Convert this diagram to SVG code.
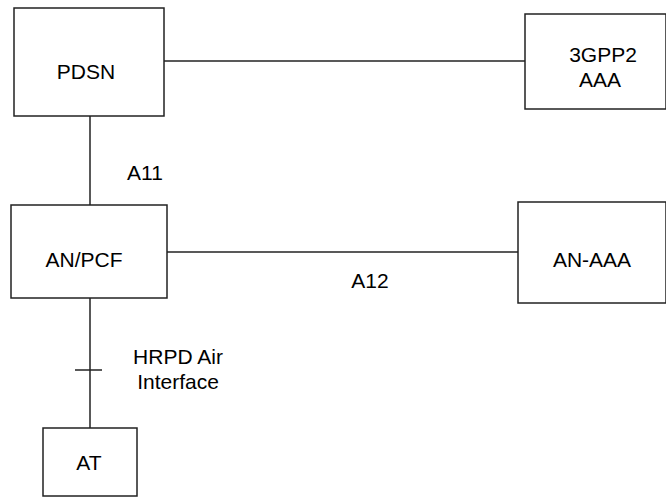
<svg xmlns="http://www.w3.org/2000/svg" width="666" height="497" viewBox="0 0 666 497">
<style>
.box{fill:#fff;stroke:#222;stroke-width:1.5}
.ln{stroke:#222;stroke-width:1.5;fill:none}
text{font-family:"Liberation Sans",Arial,sans-serif;font-size:21px;fill:#000;text-anchor:middle}
</style>
<rect width="666" height="497" fill="#fff"/>
<g id="connectors">
<line class="ln" x1="164" y1="61" x2="525" y2="61"/>
<line class="ln" x1="90" y1="116" x2="90" y2="205"/>
<line class="ln" x1="167" y1="252" x2="518" y2="252"/>
<line class="ln" x1="90" y1="298" x2="90" y2="428"/>
<line class="ln" x1="75" y1="370" x2="102" y2="370"/>
<text x="145" y="180">A11</text>
<text x="370" y="288">A12</text>
<text x="178" y="364">HRPD Air</text>
<text x="178" y="389">Interface</text>
</g>
<g id="pdsn"><rect class="box" x="14" y="8" width="150" height="108"/><text x="86" y="79">PDSN</text></g>
<g id="aaa3gpp2"><rect class="box" x="525" y="14" width="141" height="95"/><text x="603" y="62">3GPP2</text><text x="600" y="87">AAA</text></g>
<g id="anpcf"><rect class="box" x="11" y="205" width="156" height="93"/><text x="84" y="267">AN/PCF</text></g>
<g id="anaaa"><rect class="box" x="518" y="202" width="148" height="101"/><text x="592" y="267">AN-AAA</text></g>
<g id="at"><rect class="box" x="43" y="428" width="94" height="68"/><text x="89" y="470">AT</text></g>
</svg>
